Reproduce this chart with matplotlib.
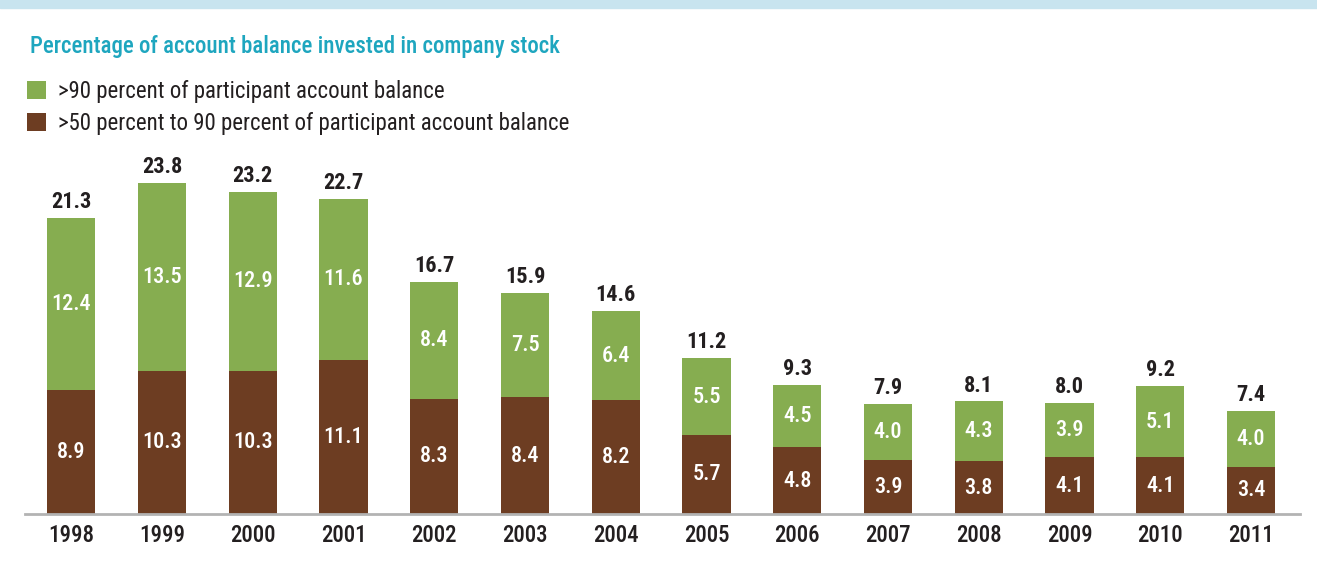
import matplotlib.pyplot as plt
from matplotlib.patches import Rectangle
from matplotlib import font_manager
import numpy as np

# Data
years = ['1998', '1999', '2000', '2001', '2002', '2003', '2004',
         '2005', '2006', '2007', '2008', '2009', '2010', '2011']
over90 = [12.4, 13.5, 12.9, 11.6, 8.4, 7.5, 6.4, 5.5, 4.5, 4.0, 4.3, 3.9, 5.1, 4.0]
mid50_90 = [8.9, 10.3, 10.3, 11.1, 8.3, 8.4, 8.2, 5.7, 4.8, 3.9, 3.8, 4.1, 4.1, 3.4]
totals = [21.3, 23.8, 23.2, 22.7, 16.7, 15.9, 14.6, 11.2, 9.3, 7.9, 8.1, 8.0, 9.2, 7.4]

lbl = ['>90 percent of participant account balance',
       '>50 percent to 90 percent of participant account balance']
title = 'Percentage of account balance invested in company stock'

# Colours
green = '#86ad50'
brown = '#6d3d22'
teal = '#1ea6bf'
band = '#c8e4ef'
dark = '#231f20'

# Font: want something narrow, fall back as we go
ents = font_manager.fontManager.ttflist
names = {f.name for f in ents}
stretch = 'normal'
if 'Roboto Condensed' in names:
    fam = 'Roboto Condensed'
elif 'Liberation Sans Narrow' in names:
    fam = 'Liberation Sans Narrow'
elif any(f.name == 'DejaVu Sans' and str(f.stretch) in ('condensed', 'semi-condensed') for f in ents):
    fam = 'DejaVu Sans'
    stretch = 'condensed'
else:
    fam = 'Roboto'
plt.rcParams['font.family'] = [fam, 'DejaVu Sans']
plt.rcParams['font.stretch'] = stretch

fig = plt.figure(figsize=(13.17, 5.62), dpi=100)
ax = fig.add_axes([25 / 1317, 48 / 562, 1275 / 1317, 364 / 562])

x = np.arange(len(years))
w = 0.53
b1 = ax.bar(x, mid50_90, w, color=brown, zorder=2)
b2 = ax.bar(x, over90, w, bottom=mid50_90, color=green, zorder=2)

for i in range(len(years)):
    ax.text(x[i], mid50_90[i] / 2, f'{mid50_90[i]:.1f}', ha='center', va='center',
            color='white', fontsize=16, fontweight='medium')
    ax.text(x[i], mid50_90[i] + over90[i] / 2, f'{over90[i]:.1f}', ha='center', va='center',
            color='white', fontsize=16, fontweight='medium')
    ax.text(x[i], totals[i] + 0.35, f'{totals[i]:.1f}', ha='center', va='bottom',
            color=dark, fontsize=16, fontweight='bold')

ax.set_xlim(-0.51, 13.54)
ax.set_ylim(0, 26.19)
ax.set_xticks(x)
ax.set_xticklabels(years, fontsize=16.5, fontweight='medium', color=dark)
ax.tick_params(axis='x', length=0, pad=7)
ax.set_yticks([])
for s in ['top', 'right', 'left']:
    ax.spines[s].set_visible(False)
ax.spines['bottom'].set_color('#b3b3b3')
ax.spines['bottom'].set_linewidth(2)
ax.set_facecolor('none')

# Top band and title
fig.patches.append(Rectangle((0, 554 / 562), 1, 8 / 562, transform=fig.transFigure,
                             color=band, zorder=0))
fig.text(30 / 1317, 1 - 47 / 562, title, color=teal, fontsize=16.5, fontweight='medium',
         va='center', ha='left')

# Legend
fig.legend([b2, b1], lbl, loc='upper left', bbox_to_anchor=(18 / 1317, 1 - 71 / 562),
           frameon=False, fontsize=16.5, handlelength=0.8, handleheight=0.8,
           handletextpad=0.55, labelspacing=0.38, labelcolor=dark, borderaxespad=0)

fig.savefig('out.png', dpi=100, facecolor='white')
